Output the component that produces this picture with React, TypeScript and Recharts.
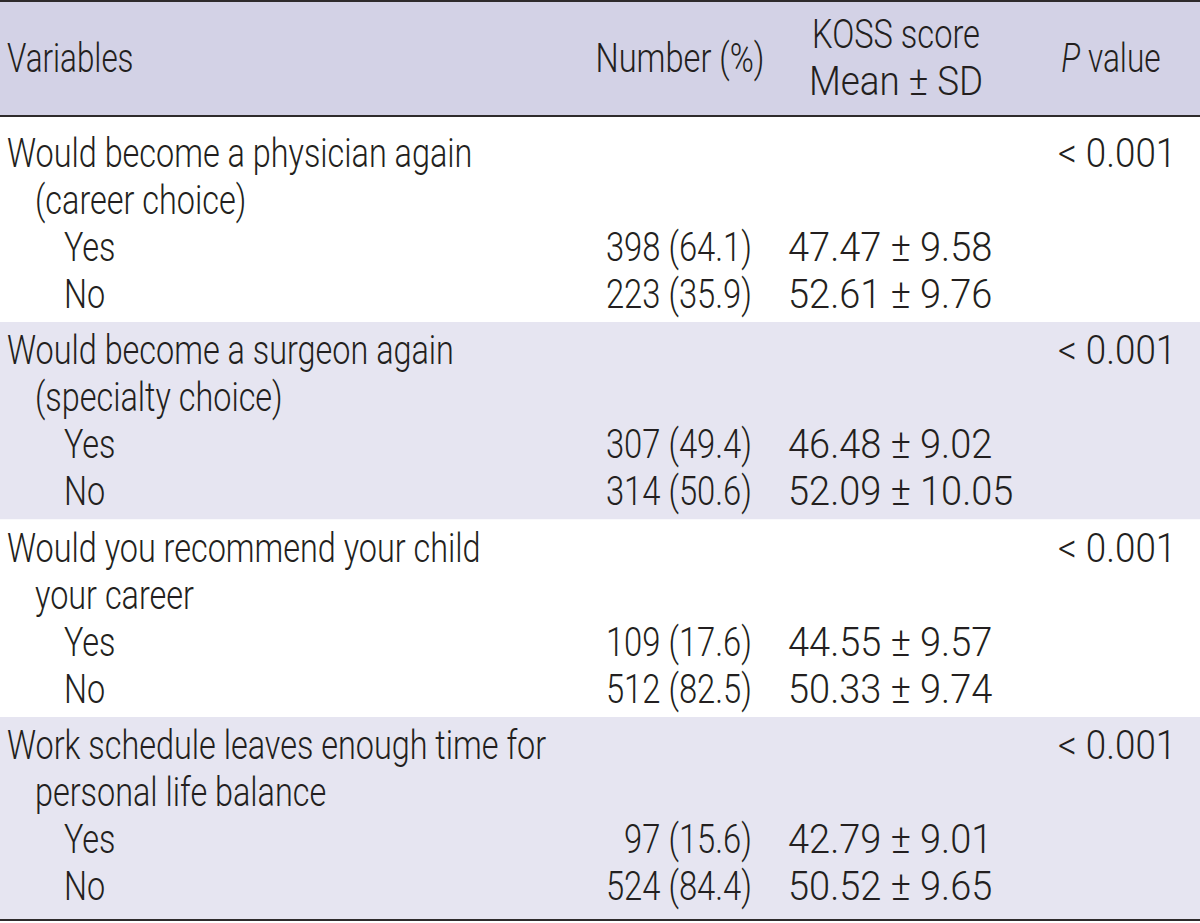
import React from "react";
import {
  ComposedChart,
  XAxis,
  YAxis,
  Scatter,
  ReferenceArea,
  ReferenceLine,
} from "recharts";

// ---------- data ----------
const headerLabels = ["Variables", "Number (%)", "KOSS score", "Mean ± SD", "P value"];
const variables = [
  "Would become a physician again",
  "Would become a surgeon again",
  "Would you recommend your child",
  "Work schedule leaves enough time for",
];
const variableContinuations = [
  "(career choice)",
  "(specialty choice)",
  "your career",
  "personal life balance",
];
const responses = ["Yes", "No"];
const counts = [
  [398, 223],
  [307, 314],
  [109, 512],
  [97, 524],
];
const percents = [
  [64.1, 35.9],
  [49.4, 50.6],
  [17.6, 82.5],
  [15.6, 84.4],
];
const means = [
  [47.47, 52.61],
  [46.48, 52.09],
  [44.55, 50.33],
  [42.79, 50.52],
];
const sds = [
  [9.58, 9.76],
  [9.02, 10.05],
  [9.57, 9.74],
  [9.01, 9.65],
];
const pValues = ["< 0.001", "< 0.001", "< 0.001", "< 0.001"];

// ---------- layout (style only) ----------
const W = 1200;
const H = 923;
const TOTAL_UNITS = 19.2;
const HEADER_UNITS = 2.4;
const TOP_GAP = 0.178;
const GROUP_UNITS = 4.127;
const FIRST_LINE = 0.88;
const LINE_STEP = 0.982;

const COL = {
  varLeft: 7,
  indent1: 35,
  indent2: 64,
  numRight: 752,
  numHeadCenter: 680,
  kossLeft: 788,
  kossHeadCenter: 896,
  pLeft: 1058,
  pHeadCenter: 1111,
};

const HEADER_BG = "#d3d2e6";
const SHADE_BG = "#e6e5f1";
const TEXT = "#231f20";
const RULE = "#2e2b2c";
const FONT = "Roboto, 'Liberation Sans', Arial, sans-serif";
const FONT_SIZE = 40;

type CellT = {
  x: number;
  y: number;
  text: string;
  anchor: "start" | "middle" | "end";
  sx: number;
  italicP?: boolean;
};

const SX_TEXT = 0.81;
const SX_NUM = 0.82;
const SX_KOSS = 0.95;
const SX_P = 0.92;

const cells: CellT[] = [];
// header
cells.push({ x: COL.varLeft, y: 1.48, text: headerLabels[0], anchor: "start", sx: 0.785 });
cells.push({ x: COL.numHeadCenter, y: 1.48, text: headerLabels[1], anchor: "middle", sx: 0.815 });
cells.push({ x: COL.kossHeadCenter, y: 0.98, text: headerLabels[2], anchor: "middle", sx: 0.815 });
cells.push({ x: COL.kossHeadCenter, y: 1.965, text: headerLabels[3], anchor: "middle", sx: 0.92 });
cells.push({ x: COL.pHeadCenter, y: 1.48, text: headerLabels[4], anchor: "middle", sx: 0.79, italicP: true });

const groupTop = (g: number) => (g === 0 ? HEADER_UNITS : HEADER_UNITS + TOP_GAP + GROUP_UNITS * g);
const textTop = (g: number) => HEADER_UNITS + TOP_GAP + GROUP_UNITS * g;

variables.forEach((v, g) => {
  const line = (i: number) => textTop(g) + FIRST_LINE + LINE_STEP * i;
  cells.push({ x: COL.varLeft, y: line(0), text: v, anchor: "start", sx: SX_TEXT });
  cells.push({ x: COL.indent1, y: line(1), text: variableContinuations[g], anchor: "start", sx: SX_TEXT });
  cells.push({ x: COL.pLeft, y: line(0), text: pValues[g], anchor: "start", sx: SX_P });
  responses.forEach((r, k) => {
    const yy = line(2 + k);
    cells.push({ x: COL.indent2, y: yy, text: r, anchor: "start", sx: SX_TEXT });
    cells.push({
      x: COL.numRight,
      y: yy,
      text: `${counts[g][k]} (${percents[g][k].toFixed(1)})`,
      anchor: "end",
      sx: SX_NUM,
    });
    cells.push({
      x: COL.kossLeft,
      y: yy,
      text: `${means[g][k].toFixed(2)} ± ${sds[g][k].toFixed(2)}`,
      anchor: "start",
      sx: SX_KOSS,
    });
  });
});

const bands = variables.map((_, g) => ({
  y1: groupTop(g),
  y2: g === variables.length - 1 ? TOTAL_UNITS : groupTop(g + 1),
  fill: g % 2 === 1 ? SHADE_BG : "#ffffff",
}));

const renderCell = (props: any) => {
  const { cx, cy, payload } = props;
  if (cx == null || cy == null || !payload) return <g />;
  const p = payload as CellT;
  return (
    <text
      transform={`translate(${cx},${cy}) scale(${p.sx},1)`}
      x={0}
      y={0}
      textAnchor={p.anchor}
      fill={TEXT}
      fontSize={FONT_SIZE}
      fontWeight={300}
      fontFamily={FONT}
    >
      {p.italicP ? (
        <>
          <tspan fontStyle="italic">P</tspan>
          <tspan> value</tspan>
        </>
      ) : (
        p.text
      )}
    </text>
  );
};

export default function App() {
  return (
    <div style={{ position: "absolute", left: 0, top: 0, width: W, height: H, background: "#fff" }}>
      <ComposedChart
        width={W}
        height={H}
        data={cells}
        margin={{ top: 1, right: 0, bottom: 3, left: 0 }}
      >
        <XAxis type="number" dataKey="x" domain={[0, W]} hide allowDataOverflow />
        <YAxis type="number" dataKey="y" domain={[0, TOTAL_UNITS]} reversed hide allowDataOverflow />
        <ReferenceArea x1={0} x2={W} y1={0} y2={HEADER_UNITS} fill={HEADER_BG} fillOpacity={1} stroke="none" />
        {bands.map((b, i) => (
          <ReferenceArea key={i} x1={0} x2={W} y1={b.y1} y2={b.y2} fill={b.fill} fillOpacity={1} stroke="none" />
        ))}
        <Scatter data={cells} dataKey="y" shape={renderCell} isAnimationActive={false} />
        <ReferenceLine y={0} stroke={RULE} strokeWidth={2} />
        <ReferenceLine y={HEADER_UNITS} stroke={RULE} strokeWidth={2} />
        <ReferenceLine y={TOTAL_UNITS} stroke={RULE} strokeWidth={2} />
      </ComposedChart>
    </div>
  );
}
